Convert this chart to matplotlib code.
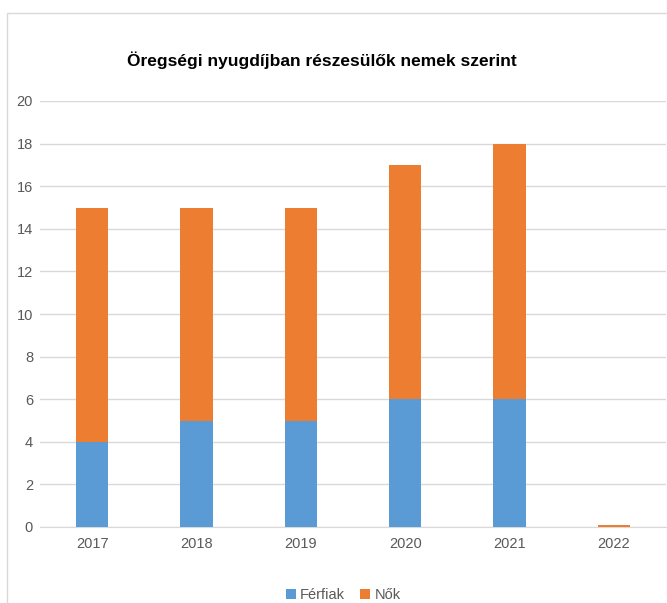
import matplotlib
matplotlib.use("Agg")
import matplotlib.pyplot as plt
from matplotlib.patches import Rectangle
from matplotlib import font_manager

years = ["2017", "2018", "2019", "2020", "2021", "2022"]
ferfiak = [4, 5, 5, 6, 6, 0]
nok = [11, 10, 10, 11, 12, 0.08]
yticks = [0, 2, 4, 6, 8, 10, 12, 14, 16, 18, 20]

names = {f.name for f in font_manager.fontManager.ttflist}
fam = "Liberation Sans Narrow" if "Liberation Sans Narrow" in names else "Liberation Sans"
plt.rcParams["font.family"] = [fam, "DejaVu Sans"]

W, H = 667, 603
fig = plt.figure(figsize=(W / 100, H / 100), dpi=100)
fig.patch.set_facecolor("white")

# outer chart border
fig.add_artist(Rectangle((7 / W, -0.1), 1.2, (H - 13) / H + 0.1,
                         transform=fig.transFigure, fill=False,
                         edgecolor="#D9D9D9", linewidth=1))

ax = fig.add_axes([40 / W, 76 / H, 626 / W, 426 / H])
x = list(range(len(years)))
blue = "#5B9BD5"
orange = "#ED7D31"
ax.bar(x, ferfiak, width=0.31, color=blue, label="Férfiak", zorder=3)
ax.bar(x, nok, width=0.31, bottom=ferfiak, color=orange, label="Nők", zorder=3)

ax.set_xlim(-0.5, len(years) - 0.5)
ax.set_ylim(0, 20)
ax.set_yticks(yticks)
ax.set_xticks(x)
ax.set_xticklabels(years)
ax.grid(axis="y", color="#D9D9D9", linewidth=1, zorder=0)
for s in ["top", "right", "left"]:
    ax.spines[s].set_visible(False)
ax.spines["bottom"].set_color("#D9D9D9")
ax.tick_params(axis="both", length=0, labelsize=10.5, labelcolor="#595959")
ax.tick_params(axis="y", pad=5)
ax.tick_params(axis="x", pad=7)

fig.text(322 / W, 1 - 60 / H, "Öregségi nyugdíjban részesülők nemek szerint",
         ha="center", va="center", fontsize=12.5, fontweight="bold", color="black")

fig.legend(loc="center", bbox_to_anchor=(343 / W, 1 - 595 / H), ncol=2,
           frameon=False, fontsize=10.5, handlelength=0.7, handleheight=0.7,
           handletextpad=0.3, columnspacing=1.0, labelcolor="#595959")

fig.savefig("out.png", dpi=100)
